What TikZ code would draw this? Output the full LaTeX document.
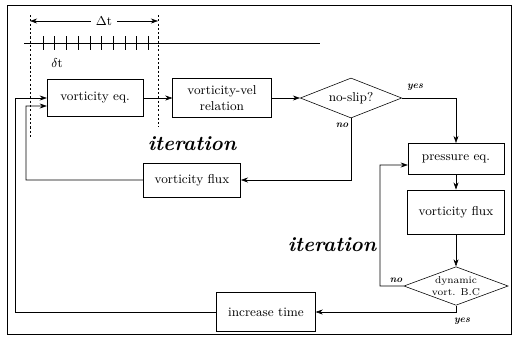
\documentclass[tikz,border=0pt]{standalone}
\usetikzlibrary{shapes.geometric,arrows.meta}
\begin{document}
\begin{tikzpicture}[x=0.7pt, y=-0.7pt, every node/.style={font=\small},
  block/.style={draw, align=center, inner sep=2pt, minimum width=67pt, minimum height=25pt},
  decision/.style={draw, diamond, aspect=2.5, inner sep=0pt, align=center},
  flow/.style={-{Stealth[length=5pt,width=3.5pt]}},
  answer/.style={font=\scriptsize\bfseries\itshape},
  iter/.style={font=\Large\bfseries\itshape}]
  \useasboundingbox (0,0) rectangle (516,338);
  \draw (7,5) rectangle (511,334);
  % time axis with the outer and inner steps
  \draw[dash pattern=on 1.5pt off 1.5pt] (30,15) -- (30,137);
  \draw[dash pattern=on 1.5pt off 1.5pt] (158,15) -- (158,127);
  \coordinate (dtl) at (30,21);
  \coordinate (dtr) at (158,21);
  \node (dt) at (104,21) {$\Delta$t};
  \draw[flow] (dt) -- (dtl);
  \draw[flow] (dt) -- (dtr);
  \draw (24,43) -- (320,43);
  \foreach \i in {0,...,9}
    \draw ({43+11.7*\i},36) -- ++(0,14);
  \node (st) at (57,63) {$\delta$t};
  % first loop
  \node[block, minimum height=26pt] (veq) at (95,98) {vorticity eq.};
  \node[block, minimum width=69pt, minimum height=27pt] (vel) at (222,98) {vorticity-vel\\relation};
  \node[decision, minimum width=71pt, minimum height=28pt] (slip) at (351,98) {no-slip?};
  \node[block, minimum width=68pt, minimum height=24pt] (flux1) at (192,180) {vorticity flux};
  \node[iter] (it1) at (192,144) {iteration};
  % second loop
  \node[block, minimum height=22pt] (peq) at (456,159) {pressure eq.};
  \node[block, minimum width=68pt, minimum height=31pt] (flux2) at (456,212) {vorticity flux};
  \node[decision, minimum width=73pt, minimum height=27pt, font=\scriptsize] (bc) at (456,286) {dynamic\\vort. B.C};
  \node[iter] (it2) at (332,245) {iteration};
  \node[block, minimum width=69pt, minimum height=27pt] (inc) at (266,312) {increase time};
  % connectors
  \draw[flow] (veq) -- (vel);
  \draw[flow] (vel) -- (slip);
  \draw[flow] (slip.east) -| (peq.north);
  \node[answer] (yes1) at (415,87) {yes};
  \draw[flow] (slip.south) |- (flux1.east);
  \node[answer] (no1) at (342,125) {no};
  \draw[flow] (flux1.west) -- (26,180) -- (26,106) -- ([yshift=-5.6pt]veq.west);
  \draw[flow] (peq) -- (flux2);
  \draw[flow] (flux2) -- (bc);
  \draw[flow] (bc.west) -- (380,286) -- (380,165) -- ([yshift=-4.2pt]peq.west);
  \node[answer] (no2) at (396,280) {no};
  \draw[flow] (bc.south) |- (inc.east);
  \node[answer] (yes2) at (462,321) {yes};
  \draw[flow] (inc.west) -- (15,312) -- (15,98) -- (veq.west);
\end{tikzpicture}
\end{document}
